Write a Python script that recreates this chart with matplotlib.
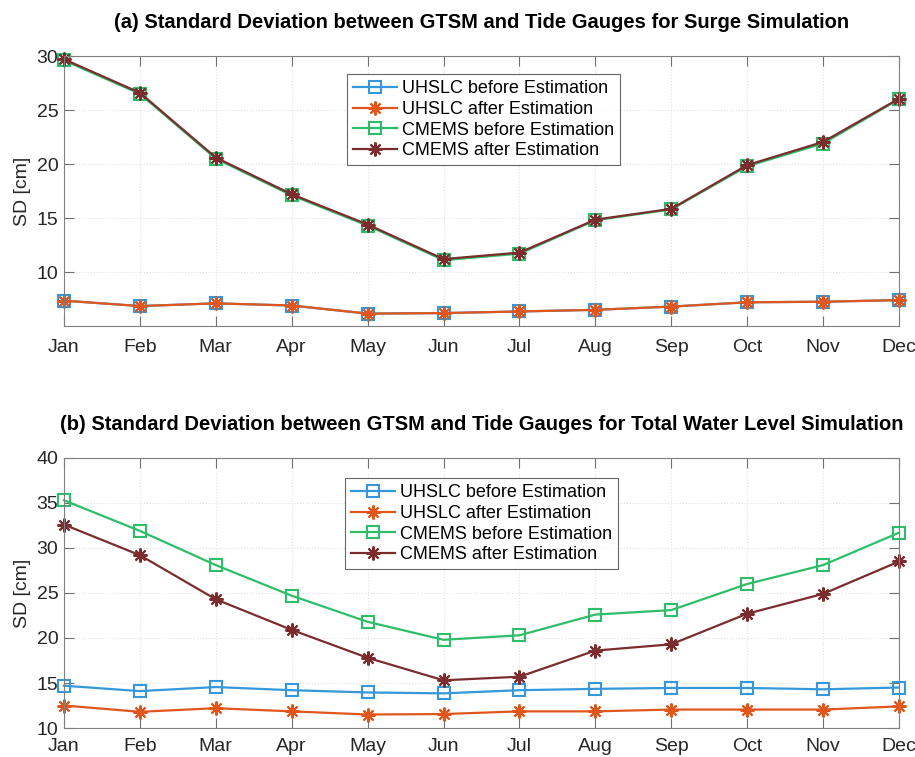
import matplotlib
matplotlib.use("Agg")
import matplotlib.pyplot as plt
import numpy as np

plt.rcParams['font.family'] = ['Liberation Sans', 'DejaVu Sans']

months = ['Jan', 'Feb', 'Mar', 'Apr', 'May', 'Jun', 'Jul', 'Aug', 'Sep', 'Oct', 'Nov', 'Dec']

# Panel (a): surge simulation
a_uhslc_before = [7.35, 6.85, 7.1, 6.9, 6.15, 6.2, 6.35, 6.5, 6.8, 7.2, 7.25, 7.4]
a_uhslc_after = [7.35, 6.85, 7.1, 6.9, 6.15, 6.2, 6.35, 6.5, 6.8, 7.2, 7.25, 7.4]
a_cmems_before = [29.6, 26.5, 20.5, 17.1, 14.3, 11.1, 11.7, 14.8, 15.8, 19.8, 21.9, 26.0]
a_cmems_after = [29.7, 26.6, 20.6, 17.2, 14.4, 11.2, 11.8, 14.85, 15.85, 19.9, 22.05, 26.05]

# Panel (b): total water level simulation
b_uhslc_before = [14.7, 14.1, 14.55, 14.2, 13.95, 13.85, 14.2, 14.35, 14.45, 14.45, 14.3, 14.5]
b_uhslc_after = [12.5, 11.8, 12.2, 11.85, 11.5, 11.55, 11.85, 11.85, 12.05, 12.05, 12.05, 12.4]
b_cmems_before = [35.3, 31.9, 28.1, 24.7, 21.8, 19.8, 20.3, 22.6, 23.1, 26.0, 28.1, 31.7]
b_cmems_after = [32.6, 29.2, 24.3, 20.9, 17.8, 15.3, 15.7, 18.6, 19.3, 22.7, 24.9, 28.5]

labels = ['UHSLC before Estimation', 'UHSLC after Estimation',
          'CMEMS before Estimation', 'CMEMS after Estimation']
colors = ['#3498DB', '#E0561C', '#2EBE6A', '#7B2D2D']
markers = ['s', (8, 2, 0), 's', (8, 2, 0)]
msizes = [8, 10, 8, 10]

fig = plt.figure(figsize=(9.15, 7.57), dpi=100)
ax_a = fig.add_axes([0.0699, 0.5693, 0.9126, 0.3567])
ax_b = fig.add_axes([0.0699, 0.0383, 0.9126, 0.3567])

x = np.arange(len(months))

def draw(ax, series, ylim, yticks, title, legpos, xpad):
    for s, lab, c, m, ms in zip(series, labels, colors, markers, msizes):
        ax.plot(x, s, color=c, marker=m, markersize=ms, markerfacecolor='none',
                markeredgecolor=c, markeredgewidth=1.5, linewidth=1.6, label=lab, clip_on=False)
    ax.set_xlim(0, 11)
    ax.set_ylim(*ylim)
    ax.set_yticks(yticks)
    ax.set_xticks(x)
    ax.set_xticklabels(months)
    ax.tick_params(direction='in', length=7, width=0.8, colors='#707070',
                   labelcolor='#262626', labelsize=14, top=True, right=True)
    ax.tick_params(axis='x', pad=xpad)
    ax.tick_params(axis='y', pad=4)
    ax.grid(True, linestyle=':', color='#e2e2e2', linewidth=0.8)
    for sp in ax.spines.values():
        sp.set_color('#808080')
        sp.set_linewidth(0.8)
    ax.set_ylabel('SD [cm]', fontsize=14, color='#262626', labelpad=4)
    ax.set_title(title, fontsize=14.5, fontweight='bold', pad=20)
    leg = ax.legend(loc='upper left', bbox_to_anchor=legpos, fontsize=13,
                    frameon=True, fancybox=False, edgecolor='#404040',
                    handlelength=2.4, handletextpad=0.3, borderpad=0.35,
                    labelspacing=0.2, borderaxespad=0)
    leg.get_frame().set_linewidth(0.8)

draw(ax_a, [a_uhslc_before, a_uhslc_after, a_cmems_before, a_cmems_after],
     (5, 30), [10, 15, 20, 25, 30],
     '(a) Standard Deviation between GTSM and Tide Gauges for Surge Simulation',
     ((347 - 64) / 835, (326 - 74) / 270), 9)
draw(ax_b, [b_uhslc_before, b_uhslc_after, b_cmems_before, b_cmems_after],
     (10, 40), [10, 15, 20, 25, 30, 35, 40],
     '(b) Standard Deviation between GTSM and Tide Gauges for Total Water Level Simulation',
     ((345 - 64) / 835, (728 - 478) / 270), 7)

fig.savefig('out.png', dpi=100)
